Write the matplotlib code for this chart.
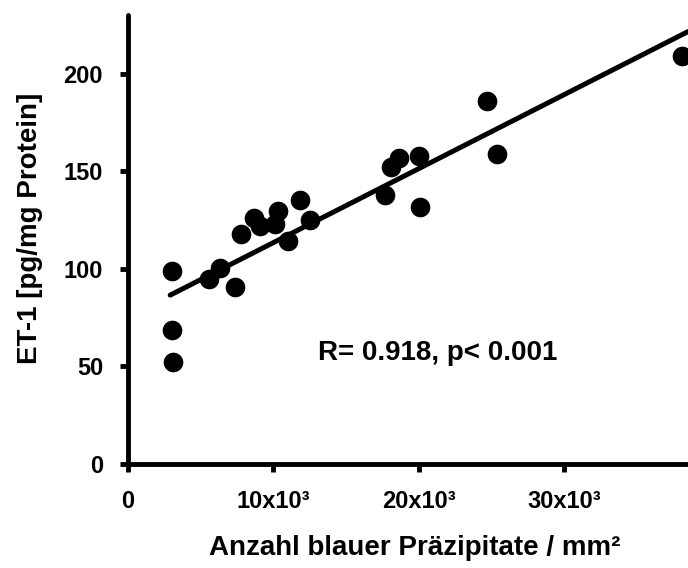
import matplotlib
matplotlib.use("Agg")
import matplotlib.pyplot as plt

x_vals = [3.0e3, 3.0e3, 3.1e3, 5.6e3, 6.3e3, 7.35e3, 7.8e3, 8.66e3, 9.07e3, 10.1e3, 10.3e3,
          11.0e3, 11.8e3, 12.5e3, 17.7e3, 18.1e3, 18.6e3, 20.0e3, 20.1e3, 24.7e3, 25.4e3, 38.1e3]
y_vals = [98.7, 68.5, 52, 95, 100.5, 90.5, 118, 126, 122, 123, 129.5,
          114, 135, 125, 138, 152, 156.5, 158, 131.5, 186, 159, 209]
line_x = [2.9e3, 38.5e3]
line_y = [86.5, 221.5]
xticks = [0, 10e3, 20e3, 30e3]
xtick_labels = ["0", "10x10³", "20x10³", "30x10³"]
yticks = [0, 50, 100, 150, 200]
annot = "R= 0.918, p< 0.001"
xlabel = "Anzahl blauer Präzipitate / mm²"
ylabel = "ET-1 [pg/mg Protein]"

plt.rcParams['font.family'] = ['Liberation Sans', 'DejaVu Sans']
plt.rcParams['font.weight'] = 'bold'

W, H = 688, 568
fig = plt.figure(figsize=(W/100, H/100), dpi=100)
ax = fig.add_axes([128/W, 1-464/H, 1-128/W, (464-15)/H])
ax.set_xlim(0, 38.5e3)
ax.set_ylim(0, 230)
ax.plot(line_x, line_y, color='black', lw=3.6, solid_capstyle='round', zorder=2)
ax.scatter(x_vals, y_vals, s=200, color='black', zorder=3, clip_on=False, linewidths=0)
for s in ['top', 'right']:
    ax.spines[s].set_visible(False)
for s in ['left', 'bottom']:
    ax.spines[s].set_linewidth(3.5)
    ax.spines[s].set_capstyle('round')
ax.set_xticks(xticks)
ax.set_xticklabels(xtick_labels)
ax.set_yticks(yticks)
ax.tick_params(axis='both', direction='out', length=6, width=3.5, labelsize=17)
ax.tick_params(axis='y', pad=12)
ax.tick_params(axis='x', pad=13)
for lab in ax.get_xticklabels() + ax.get_yticklabels():
    lab.set_fontweight('bold')
fig.text(415/W, 1-548/H, xlabel, ha='center', va='center', fontsize=20, fontweight='bold')
fig.text(30/W, 1-228/H, ylabel, ha='center', va='center', rotation=90, fontsize=20, fontweight='bold')
ax.text(21.3e3, 57, annot, ha='center', va='center', fontsize=20, fontweight='bold')
fig.savefig("out.png", dpi=100)
